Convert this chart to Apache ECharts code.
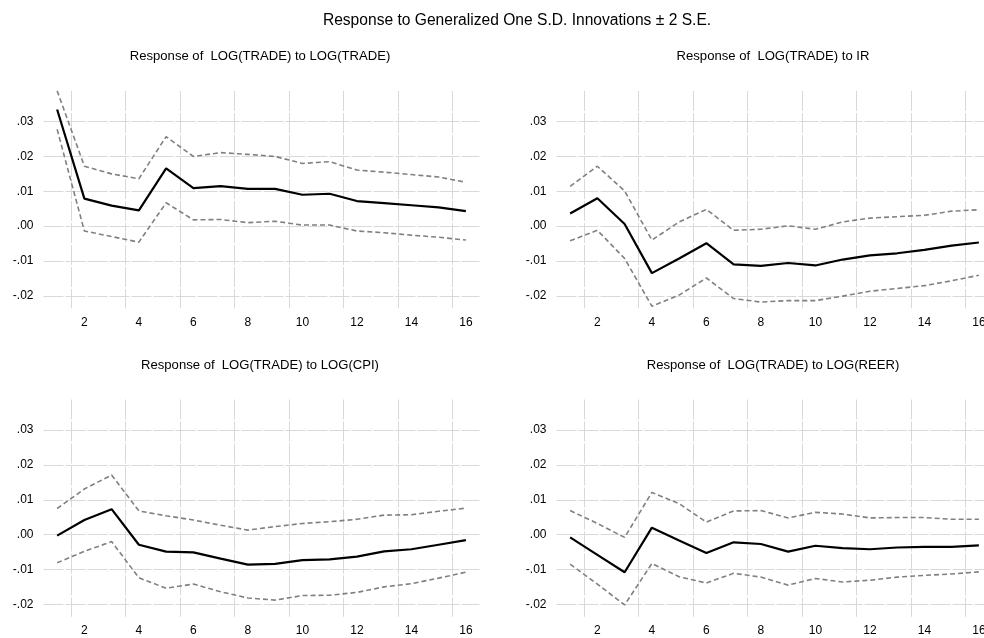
<!DOCTYPE html>
<html>
<head>
<meta charset="utf-8">
<script src="https://cdn.jsdelivr.net/npm/echarts@6/dist/echarts.min.js"></script>
<style>html,body{margin:0;padding:0;background:#fff;overflow:hidden;}#chart{width:984px;height:638px;}</style>
</head>
<body>
<div id="chart"></div>
<script>
const periods = [1,2,3,4,5,6,7,8,9,10,11,12,13,14,15,16];
const xTickLabels = [2,4,6,8,10,12,14,16];
const xGridPositions = [1.5,3.5,5.5,7.5,9.5,11.5,13.5,15.5];
const yTickValues = [-0.02,-0.01,0,0.01,0.02,0.03];

const mainTitle = 'Response to Generalized One S.D. Innovations \u00b1 2 S.E.';
const panelTitles = [
  'Response of  LOG(TRADE) to LOG(TRADE)',
  'Response of  LOG(TRADE) to IR',
  'Response of  LOG(TRADE) to LOG(CPI)',
  'Response of  LOG(TRADE) to LOG(REER)'
];

// Response of LOG(TRADE) to LOG(TRADE)
const tradeUpper = [0.0389,0.0172,0.0150,0.0136,0.0257,0.0200,0.0211,0.0206,0.0200,0.0180,0.0185,0.0161,0.0155,0.0148,0.0141,0.0126];
const tradeMain  = [0.0335,0.0079,0.0059,0.0045,0.0166,0.0109,0.0115,0.0107,0.0107,0.0090,0.0093,0.0072,0.0066,0.0060,0.0054,0.0043];
const tradeLower = [0.0278,-0.0014,-0.0030,-0.0046,0.0067,0.0018,0.0019,0.0010,0.0014,0.0003,0.0003,-0.0014,-0.0019,-0.0026,-0.0032,-0.0040];

// Response of LOG(TRADE) to IR
const irUpper = [0.0114,0.0172,0.0101,-0.0040,0.0012,0.0048,-0.0012,-0.0009,0.0001,-0.0009,0.0012,0.0023,0.0027,0.0031,0.0043,0.0047];
const irMain  = [0.0036,0.0080,0.0006,-0.0135,-0.0093,-0.0049,-0.0110,-0.0114,-0.0106,-0.0113,-0.0096,-0.0084,-0.0078,-0.0068,-0.0056,-0.0047];
const irLower = [-0.0042,-0.0012,-0.0093,-0.0230,-0.0198,-0.0149,-0.0208,-0.0218,-0.0214,-0.0214,-0.0201,-0.0187,-0.0179,-0.0171,-0.0157,-0.0141];

// Response of LOG(TRADE) to LOG(CPI)
const cpiUpper = [0.0075,0.0131,0.0171,0.0068,0.0054,0.0042,0.0027,0.0013,0.0023,0.0032,0.0037,0.0044,0.0056,0.0057,0.0067,0.0076];
const cpiMain  = [-0.0003,0.0042,0.0073,-0.0029,-0.0049,-0.0051,-0.0069,-0.0086,-0.0084,-0.0073,-0.0071,-0.0063,-0.0048,-0.0042,-0.0029,-0.0016];
const cpiLower = [-0.0081,-0.0048,-0.0020,-0.0124,-0.0154,-0.0142,-0.0164,-0.0182,-0.0188,-0.0175,-0.0174,-0.0166,-0.0150,-0.0141,-0.0125,-0.0108];

// Response of LOG(TRADE) to LOG(REER)
const reerUpper = [0.0069,0.0032,-0.0008,0.0121,0.0089,0.0036,0.0068,0.0069,0.0048,0.0064,0.0059,0.0048,0.0049,0.0049,0.0044,0.0044];
const reerMain  = [-0.0008,-0.0058,-0.0108,0.0020,-0.0017,-0.0053,-0.0022,-0.0027,-0.0049,-0.0032,-0.0039,-0.0042,-0.0037,-0.0035,-0.0035,-0.0031];
const reerLower = [-0.0085,-0.0142,-0.0202,-0.0083,-0.0121,-0.0139,-0.0111,-0.0122,-0.0145,-0.0126,-0.0136,-0.0131,-0.0122,-0.0117,-0.0113,-0.0107];

const panels = [
  [tradeUpper, tradeMain, tradeLower],
  [irUpper, irMain, irLower],
  [cpiUpper, cpiMain, cpiLower],
  [reerUpper, reerMain, reerLower]
];

const FONT = 'Liberation Sans, Arial, Helvetica, sans-serif';
const gridBoxes = [
  {left: 43.5, top: 91, width: 436, height: 217.3},
  {left: 556.5, top: 91, width: 436, height: 217.3},
  {left: 43.5, top: 399.5, width: 436, height: 217.3},
  {left: 556.5, top: 399.5, width: 436, height: 217.3}
];
const subTitlePos = [
  {x: 260, y: 50},
  {x: 773, y: 50},
  {x: 260, y: 359},
  {x: 773, y: 359}
];
const gridLineStyle = {color: '#d9d9d9', width: 1, type: [20, 2]};

function fmtY(v) {
  const s = Math.abs(v).toFixed(2).slice(1);
  return (v < -1e-9 ? '-' : '') + s;
}

const titles = [{
  text: mainTitle, left: 517, top: 13, textAlign: 'center', padding: 0,
  textStyle: {fontFamily: FONT, fontSize: 15.6, fontWeight: 'normal', color: '#000', lineHeight: 15}
}];
panelTitles.forEach((t, i) => {
  titles.push({
    text: t, left: subTitlePos[i].x, top: subTitlePos[i].y, textAlign: 'center', padding: 0,
    textStyle: {fontFamily: FONT, fontSize: 13.1, fontWeight: 'normal', color: '#000', lineHeight: 13}
  });
});

const xAxes = [], yAxes = [], series = [];
gridBoxes.forEach((g, i) => {
  xAxes.push({
    type: 'value', gridIndex: i, min: 0.5, max: 16.5,
    axisLine: {show: false},
    axisTick: {show: false, customValues: xGridPositions},
    axisLabel: {customValues: xTickLabels, fontFamily: FONT, fontSize: 12, color: '#000', margin: 8, hideOverlap: false},
    splitLine: {show: true, lineStyle: gridLineStyle}
  });
  yAxes.push({
    type: 'value', gridIndex: i, min: -0.0236, max: 0.0388,
    axisLine: {show: false},
    axisTick: {show: false, customValues: yTickValues},
    axisLabel: {customValues: yTickValues, formatter: fmtY, fontFamily: FONT, fontSize: 12, color: '#000', margin: 10},
    splitLine: {show: true, lineStyle: gridLineStyle}
  });
  const [up, mid, lo] = panels[i];
  const mk = arr => periods.map((p, k) => [p, arr[k]]);
  series.push({
    type: 'line', xAxisIndex: i, yAxisIndex: i, data: mk(up), symbol: 'none',
    lineStyle: {color: '#808080', width: 1.6, type: [5, 3]}, z: 2
  });
  series.push({
    type: 'line', xAxisIndex: i, yAxisIndex: i, data: mk(lo), symbol: 'none',
    lineStyle: {color: '#808080', width: 1.6, type: [5, 3]}, z: 2
  });
  series.push({
    type: 'line', xAxisIndex: i, yAxisIndex: i, data: mk(mid), symbol: 'none',
    lineStyle: {color: '#000', width: 2.2}, z: 3
  });
});

const chart = echarts.init(document.getElementById('chart'), null, {renderer: 'canvas'});
chart.setOption({
  animation: false,
  backgroundColor: '#fff',
  title: titles,
  grid: gridBoxes.map(g => Object.assign({containLabel: false, outerBoundsMode: 'none'}, g)),
  xAxis: xAxes,
  yAxis: yAxes,
  series: series
});
</script>
</body>
</html>
